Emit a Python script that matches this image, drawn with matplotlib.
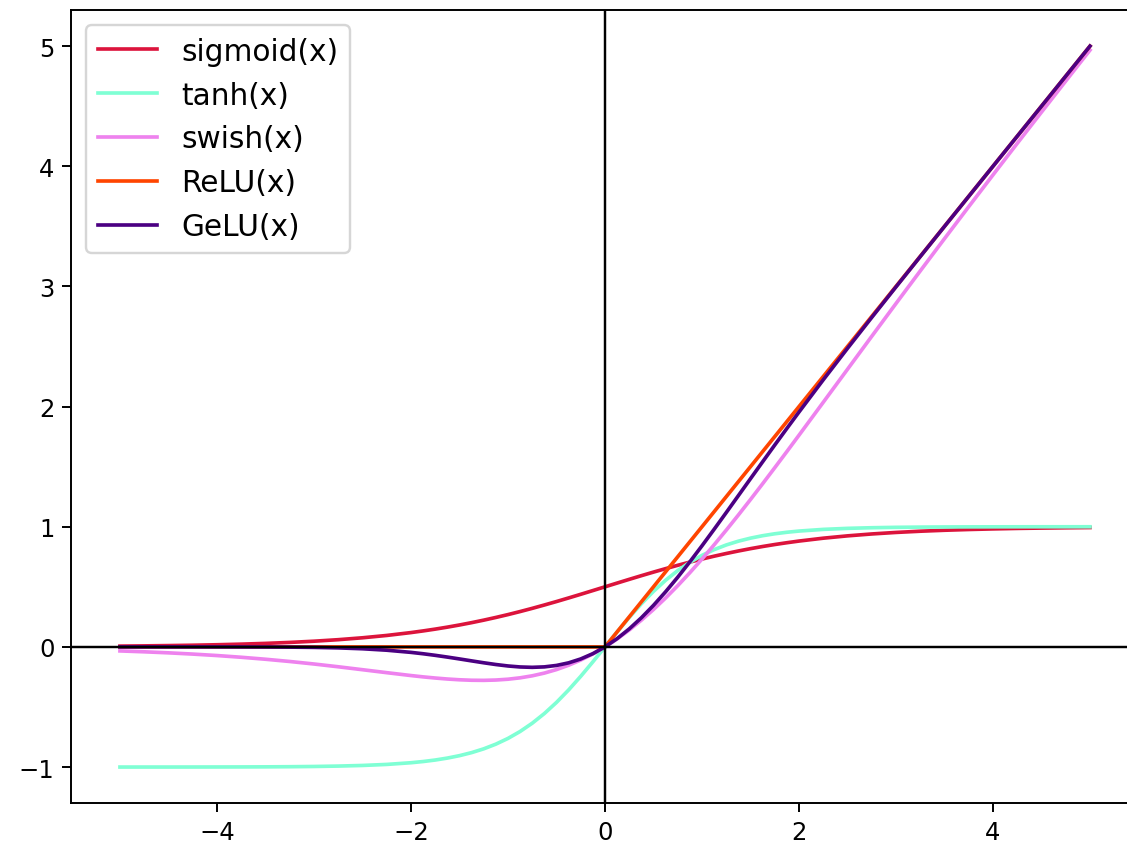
import matplotlib
matplotlib.use("Agg")
import matplotlib.pyplot as plt

# x grid shared by all curves (finer around the origin)
x = [-5.0, -4.75, -4.5, -4.25, -4.0, -3.75, -3.5, -3.25, -3.0, -2.75, -2.5, -2.25,
     -2.0, -1.875, -1.75, -1.625, -1.5, -1.375, -1.25, -1.125, -1.0, -0.875, -0.75,
     -0.625, -0.5, -0.375, -0.25, -0.125, 0.0, 0.125, 0.25, 0.375, 0.5, 0.625, 0.75,
     0.875, 1.0, 1.125, 1.25, 1.375, 1.5, 1.625, 1.75, 1.875, 2.0,
     2.25, 2.5, 2.75, 3.0, 3.25, 3.5, 3.75, 4.0, 4.25, 4.5, 4.75, 5.0]

sigmoid_y = [0.0067, 0.0086, 0.0110, 0.0140, 0.0180, 0.0230, 0.0293, 0.0373, 0.0474,
             0.0601, 0.0759, 0.0953,
             0.1192, 0.1330, 0.1480, 0.1645, 0.1824, 0.2018, 0.2227, 0.2451, 0.2689,
             0.2942, 0.3208, 0.3487, 0.3775, 0.4073, 0.4378, 0.4688, 0.5, 0.5312,
             0.5622, 0.5927, 0.6225, 0.6513, 0.6792, 0.7058, 0.7311, 0.7549, 0.7773,
             0.7982, 0.8176, 0.8355, 0.8520, 0.8670, 0.8808,
             0.9047, 0.9241, 0.9399, 0.9526, 0.9627, 0.9707, 0.9770, 0.9820, 0.9860,
             0.9890, 0.9914, 0.9933]

tanh_y = [-0.9999, -0.9998, -0.9998, -0.9996, -0.9993, -0.9989, -0.9982, -0.9970,
          -0.9951, -0.9918, -0.9866, -0.9780,
          -0.9640, -0.9540, -0.9414, -0.9253, -0.9051, -0.8798, -0.8483, -0.8093,
          -0.7616, -0.7039, -0.6351, -0.5546, -0.4621, -0.3584, -0.2449, -0.1244, 0.0,
          0.1244, 0.2449, 0.3584, 0.4621, 0.5546, 0.6351, 0.7039, 0.7616, 0.8093,
          0.8483, 0.8798, 0.9051, 0.9253, 0.9414, 0.9540, 0.9640,
          0.9780, 0.9866, 0.9918, 0.9951, 0.9970, 0.9982, 0.9989, 0.9993, 0.9996,
          0.9998, 0.9998, 0.9999]

swish_y = [-0.0335, -0.0408, -0.0494, -0.0597, -0.0719, -0.0862, -0.1027, -0.1213,
           -0.1423, -0.1653, -0.1898, -0.2144,
           -0.2384, -0.2494, -0.2590, -0.2673, -0.2736, -0.2775, -0.2784, -0.2757,
           -0.2689, -0.2574, -0.2406, -0.2179, -0.1888, -0.1527, -0.1094, -0.0586, 0.0,
           0.0664, 0.1406, 0.2223, 0.3112, 0.4071, 0.5094, 0.6176, 0.7311, 0.8493,
           0.9716, 1.0975, 1.2264, 1.3577, 1.4910, 1.6256, 1.7616,
           2.0356, 2.3102, 2.5847, 2.8577, 3.1287, 3.3975, 3.6638, 3.9281, 4.1905,
           4.4505, 4.7092, 4.9665]

relu_y = [0.0, 0.0, 0.0, 0.0, 0.0, 0.0, 0.0, 0.0, 0.0, 0.0, 0.0, 0.0,
          0.0, 0.0, 0.0, 0.0, 0.0, 0.0, 0.0, 0.0, 0.0, 0.0, 0.0, 0.0, 0.0, 0.0, 0.0,
          0.0, 0.0, 0.125, 0.25, 0.375, 0.5, 0.625, 0.75, 0.875, 1.0, 1.125, 1.25,
          1.375, 1.5, 1.625, 1.75, 1.875, 2.0,
          2.25, 2.5, 2.75, 3.0, 3.25, 3.5, 3.75, 4.0, 4.25, 4.5, 4.75, 5.0]

gelu_y = [0.0, 0.0, 0.0, 0.0, -0.0001, -0.0003, -0.0008, -0.0019, -0.0040, -0.0082,
          -0.0155, -0.0275,
          -0.0455, -0.0570, -0.0701, -0.0847, -0.1002, -0.1163, -0.1321, -0.1466,
          -0.1587, -0.1670, -0.1700, -0.1663, -0.1543, -0.1327, -0.1003, -0.0563, 0.0,
          0.0687, 0.1497, 0.2423, 0.3457, 0.4587, 0.5800, 0.7080, 0.8413, 0.9784,
          1.1179, 1.2587, 1.3998, 1.5403, 1.6799, 1.8180, 1.9545,
          2.2225, 2.4845, 2.7418, 2.9960, 3.2481, 3.4992, 3.7497, 3.9999, 4.25, 4.5,
          4.75, 5.0]

fig = plt.figure(figsize=(1127 / 175, 850 / 175), dpi=175)
# right spine sits just past the image edge, as in the reference
ax = fig.add_axes([0.0634, 0.054, 0.9468, 0.933])

ax.plot(x, sigmoid_y, color="crimson", label="sigmoid(x)")
ax.plot(x, tanh_y, color="aquamarine", label="tanh(x)")
ax.plot(x, swish_y, color="violet", label="swish(x)")
ax.plot(x, relu_y, color="orangered", label="ReLU(x)")
ax.plot(x, gelu_y, color="indigo", label="GeLU(x)")

ax.axhline(0, color="black", linewidth=1)
ax.axvline(0, color="black", linewidth=1)
ax.legend(loc="upper left", fontsize=12.2)

fig.savefig("out.png", dpi=175)
